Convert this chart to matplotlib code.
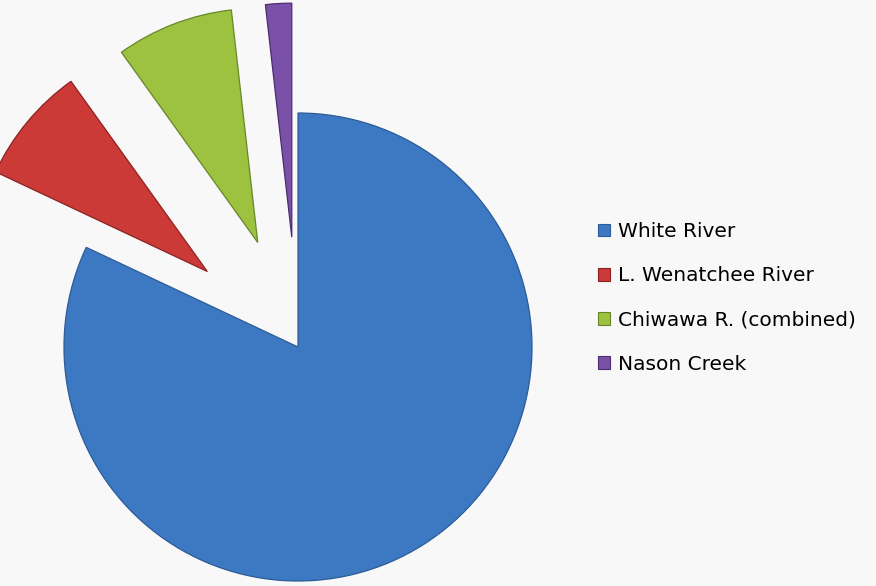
import matplotlib
matplotlib.use('Agg')
import matplotlib.pyplot as plt
from matplotlib.patches import Patch

# data (share of total)
rivers = ['White River', 'L. Wenatchee River', 'Chiwawa R. (combined)', 'Nason Creek']
shares = [0.820, 0.081, 0.081, 0.018]
explode = [0, 118, 112, 110]  # pie() offsets in data units (pixels here)

colors = ['#3d79c3', '#cc3a38', '#9cc23f', '#7a50a8']
edges = ['#2c5b96', '#8a2220', '#67862a', '#4b2e6e']

W, H = 876, 586
fig = plt.figure(figsize=(W / 100, H / 100), dpi=100)
fig.patch.set_facecolor('#f8f8f8')
ax = fig.add_axes([0, 0, 1, 1])

wedges, _ = ax.pie(shares, explode=explode, colors=colors, startangle=90,
                   counterclock=False, radius=234, center=(298, H - 347),
                   frame=True, wedgeprops={'linewidth': 0.9})
for w, ec in zip(wedges, edges):
    w.set_edgecolor(ec)
ax.set_xlim(0, W)
ax.set_ylim(0, H)
ax.set_aspect('equal')
ax.axis('off')

handles = [Patch(facecolor=c, edgecolor=e, linewidth=0.8) for c, e in zip(colors, edges)]
ax.legend(handles, rivers, loc='center left', bbox_to_anchor=(598 / W, 1 - 298 / H),
          bbox_transform=fig.transFigure, frameon=False, borderpad=0, borderaxespad=0,
          handlelength=0.58, handleheight=0.58, handletextpad=0.42, labelspacing=1.25,
          prop={'family': 'DejaVu Sans', 'size': 14.5})

fig.savefig('out.png', dpi=100, facecolor=fig.get_facecolor())
